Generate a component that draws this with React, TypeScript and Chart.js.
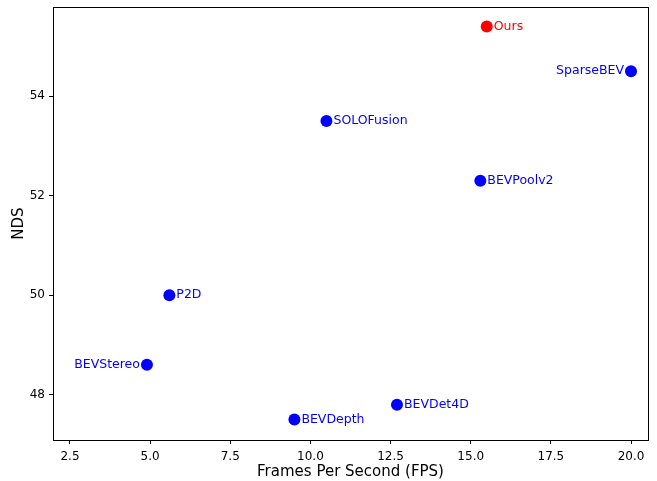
import { useEffect, useRef } from "react";
import { Chart, registerables } from "chart.js";

Chart.register(...registerables);

const methods = ["Ours", "SparseBEV", "SOLOFusion", "BEVPoolv2", "P2D", "BEVStereo", "BEVDet4D", "BEVDepth"];
const fps = [15.5, 20.0, 10.5, 15.3, 5.6, 4.9, 12.7, 9.5];
const nds = [55.4, 54.5, 53.5, 52.3, 50.0, 48.6, 47.8, 47.5];
const labelSide = ["right", "left", "right", "right", "right", "left", "right", "right"];
const pointColors = ["#ff0000", "#0000ff", "#0000ff", "#0000ff", "#0000ff", "#0000ff", "#0000ff", "#0000ff"];
const xTicks = [2.5, 5.0, 7.5, 10.0, 12.5, 15.0, 17.5, 20.0];
const xTickLabels = ["2.5", "5.0", "7.5", "10.0", "12.5", "15.0", "17.5", "20.0"];
const yTicks = [48, 50, 52, 54];
const yTickLabels = ["48", "50", "52", "54"];
const xRange = [1.97, 20.53];
const yRange = [47.09, 55.79];

const FONT = "'DejaVu Sans', sans-serif";

const annotPlugin = {
  id: "annot",
  afterDatasetsDraw(chart: any) {
    const ctx = chart.ctx;
    const xs = chart.scales.x;
    const ys = chart.scales.y;
    ctx.save();
    ctx.font = `12.5px ${FONT}`;
    ctx.textBaseline = "middle";
    methods.forEach((m, i) => {
      const px = xs.getPixelForValue(fps[i]);
      const py = ys.getPixelForValue(nds[i]);
      ctx.fillStyle = pointColors[i];
      if (labelSide[i] === "left") {
        ctx.textAlign = "right";
        ctx.fillText(m, px - 7, py);
      } else {
        ctx.textAlign = "left";
        ctx.fillText(m, px + 7, py);
      }
    });
    const a = chart.chartArea;
    ctx.strokeStyle = "#000";
    ctx.lineWidth = 1;
    ctx.strokeRect(Math.round(a.left) + 0.5, Math.round(a.top) + 0.5, Math.round(a.right - a.left), Math.round(a.bottom - a.top));
    ctx.restore();
  },
};

export default function App() {
  const ref = useRef<HTMLCanvasElement | null>(null);
  useEffect(() => {
    if (!ref.current) return;
    const chart = new Chart(ref.current, {
      type: "scatter",
      data: {
        datasets: [
          {
            data: fps.map((x, i) => ({ x, y: nds[i] })),
            backgroundColor: pointColors,
            borderColor: pointColors,
            pointRadius: 6,
            pointHoverRadius: 6,
            borderWidth: 0,
          },
        ],
      },
      options: {
        responsive: false,
        animation: false,
        devicePixelRatio: 1,
        layout: { padding: { top: 7, right: 9, left: 0, bottom: 0 } },
        plugins: { legend: { display: false }, tooltip: { enabled: false } },
        scales: {
          x: {
            type: "linear",
            min: xRange[0],
            max: xRange[1],
            afterFit: (s: any) => { s.height = 41; s.paddingLeft = 0; s.paddingRight = 0; },
            afterBuildTicks: (s: any) => { s.ticks = xTicks.map((v) => ({ value: v })); },
            ticks: {
              color: "#000",
              font: { family: FONT, size: 12 },
              padding: 6,
              maxRotation: 0,
              autoSkip: false,
              callback: (v: any) => xTickLabels[xTicks.indexOf(Number(v))] ?? "",
            },
            grid: { display: true, drawOnChartArea: false, drawTicks: true, tickLength: 4, color: "#000", tickColor: "#000" },
            border: { display: false },
            title: { display: true, text: "Frames Per Second (FPS)", color: "#000", font: { family: FONT, size: 15 }, padding: { top: 0, bottom: 0 } },
          },
          y: {
            type: "linear",
            min: yRange[0],
            max: yRange[1],
            afterFit: (s: any) => { s.width = 53; s.paddingTop = 0; s.paddingBottom = 0; },
            afterBuildTicks: (s: any) => { s.ticks = yTicks.map((v) => ({ value: v })); },
            ticks: {
              color: "#000",
              font: { family: FONT, size: 12 },
              padding: 4,
              autoSkip: false,
              callback: (v: any) => yTickLabels[yTicks.indexOf(Number(v))] ?? "",
            },
            grid: { display: true, drawOnChartArea: false, drawTicks: true, tickLength: 4, color: "#000", tickColor: "#000" },
            border: { display: false },
            title: { display: true, text: "NDS", color: "#000", font: { family: FONT, size: 15 }, padding: { top: 10, bottom: 0 } },
          },
        },
      },
      plugins: [annotPlugin],
    } as any);
    return () => chart.destroy();
  }, []);
  return (
    <canvas
      ref={ref}
      width={657}
      height={481}
      style={{ position: "absolute", left: 0, top: 0, width: 657, height: 481 }}
    />
  );
}
